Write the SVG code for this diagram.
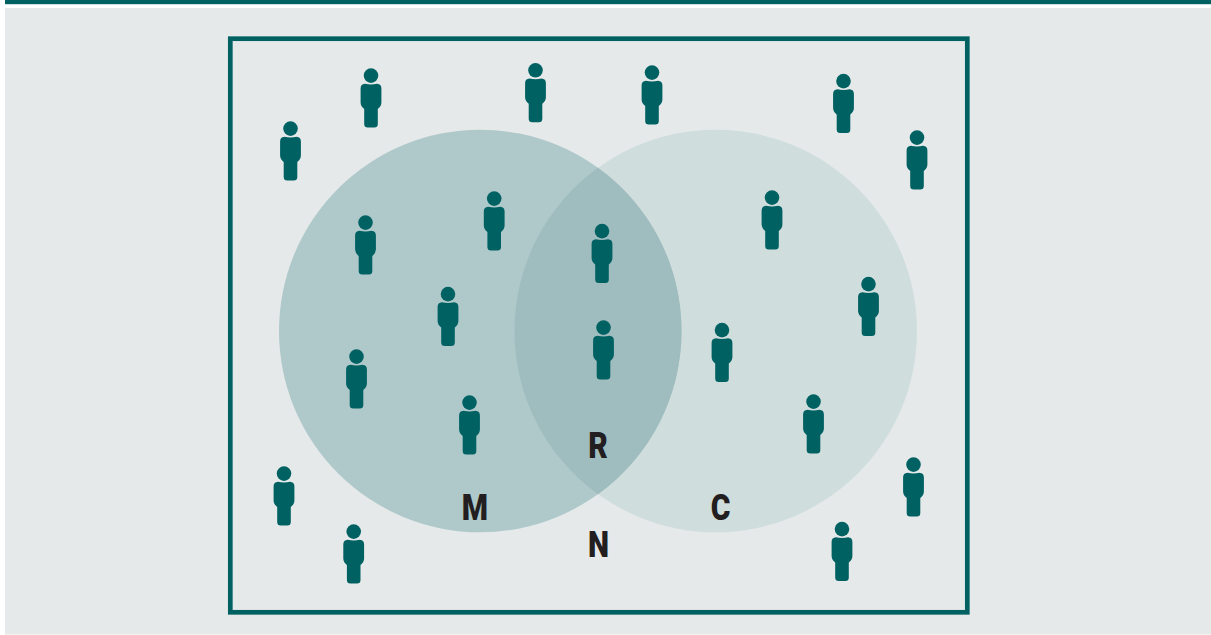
<svg xmlns="http://www.w3.org/2000/svg" width="1211" height="635" viewBox="0 0 1211 635">
<style>
.l{font-family:"Roboto","Liberation Sans",sans-serif;font-weight:900;font-size:37.500px;fill:#231f20;text-anchor:middle}
.p{fill:#006163}
</style>
<defs>
<g id="person"><circle cx="0" cy="8" r="7.300"/><path d="M-6 16.200Q0 17.500 6 16.200Q10.400 16.500 10.400 21V35Q10.400 38.500 6.800 41.500V56.500Q6.800 60 3.300 60H-3.300Q-6.800 60-6.800 56.500V41.500Q-10.400 38.500-10.400 35V21Q-10.400 16.500-6 16.200Z"/></g>
</defs>
<rect width="1211" height="635" fill="#fff"/>
<rect x="5" y="0" width="1206" height="4.200" fill="#006163"/>
<rect x="5" y="8" width="1206" height="626.500" fill="#e6e9ea"/>
<rect x="230.300" y="38.700" width="737" height="573.600" fill="none" stroke="#006163" stroke-width="4.700"/>
<circle id="C" cx="715.750" cy="331" r="201.250" fill="#cfdddd"/>
<circle id="M" cx="480.250" cy="331" r="201.250" fill="#afc9cb"/>
<path id="overlap" d="M598 167.800A201.250 201.250 0 0 1 598 494.200A201.250 201.250 0 0 1 598 167.800Z" fill="#9fbcbe"/>
<g class="p" transform="translate(0 -.4)">
<g id="p1"><use href="#person" x="290.500" y="121"/></g>
<g id="p2"><use href="#person" x="371" y="68"/></g>
<g id="p3"><use href="#person" x="535.500" y="62.700"/></g>
<g id="p4"><use href="#person" x="652" y="65"/></g>
<g id="p5"><use href="#person" x="843.500" y="73.500"/></g>
<g id="p6"><use href="#person" x="917" y="130"/></g>
<g id="p7"><use href="#person" x="365.500" y="215"/></g>
<g id="p8"><use href="#person" x="494.200" y="191"/></g>
<g id="p9"><use href="#person" x="602" y="223.500"/></g>
<g id="p10"><use href="#person" x="772" y="190"/></g>
<g id="p11"><use href="#person" x="448" y="286.500"/></g>
<g id="p12"><use href="#person" x="603.500" y="320"/></g>
<g id="p13"><use href="#person" x="722" y="322.500"/></g>
<g id="p14"><use href="#person" x="868.500" y="276.500"/></g>
<g id="p15"><use href="#person" x="356.500" y="349"/></g>
<g id="p16"><use href="#person" x="469.500" y="395"/></g>
<g id="p17"><use href="#person" x="813.500" y="394"/></g>
<g id="p18"><use href="#person" x="913.500" y="457"/></g>
<g id="p19"><use href="#person" x="284" y="466"/></g>
<g id="p20"><use href="#person" x="353.700" y="524"/></g>
<g id="p21"><use href="#person" x="842" y="521.500"/></g>
</g>
<text class="l" transform="translate(598 458.300) scale(.8 1)">R</text>
<text class="l" transform="translate(475 520) scale(.8 1)">M</text>
<text class="l" transform="translate(720.500 520) scale(.8 1)">C</text>
<text class="l" transform="translate(598.500 556.700) scale(.8 1)">N</text>
</svg>
